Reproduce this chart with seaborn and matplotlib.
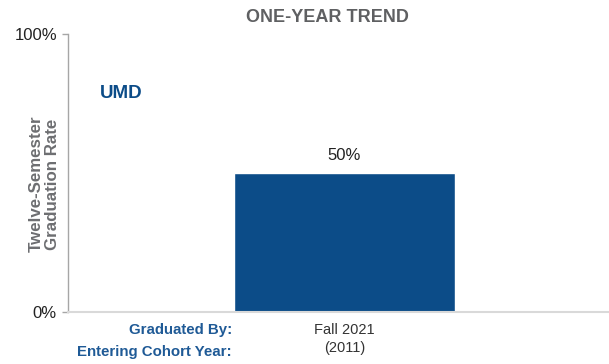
import matplotlib
matplotlib.use("Agg")
import matplotlib.pyplot as plt
import seaborn as sns
import pandas as pd

# data
categorias = ["Fall 2021\n(2011)"]
taxas = [50]
rotulos_linha = ["Graduated By:", "Entering Cohort Year:"]

df = pd.DataFrame({"cat": categorias, "taxa": taxas})

sns.set_style("white")
plt.rcParams["font.family"] = ["Liberation Sans", "DejaVu Sans"]

azul = "#0c4c88"
cinza = "#6d6e71"

fig = plt.figure(figsize=(6.09, 3.64), dpi=100)
ax = fig.add_axes([68 / 609, 1 - 312 / 364, 540 / 609, 278 / 364])

sns.barplot(data=df, x="cat", y="taxa", color=azul, width=0.41, saturation=1, ax=ax)
ax.set_xlim(-0.512, 0.488)
ax.set_ylim(0, 100)

ax.set_yticks([0, 100])
ax.set_yticklabels(["0%", "100%"], fontsize=12, color="#222222")
ax.tick_params(axis="y", length=4, width=1, color="#a6a6a6", left=True, pad=4)
ax.tick_params(axis="x", length=0, labelsize=10.5, labelcolor="#333333", pad=8)
for t in ax.get_xticklabels():
    t.set_linespacing(1.35)
ax.set_xlabel("")

for s in ["top", "right"]:
    ax.spines[s].set_visible(False)
ax.spines["left"].set_color("#a6a6a6")
ax.spines["left"].set_linewidth(1)
ax.spines["bottom"].set_color("#d9d9d9")
ax.spines["bottom"].set_linewidth(1.5)

# rotulo do valor
for p, v in zip(ax.patches, taxas):
    ax.annotate(f"{v}%", (p.get_x() + p.get_width() / 2, p.get_height()),
                xytext=(0, 7), textcoords="offset points",
                ha="center", va="bottom", fontsize=12, color="#222222")

ax.set_ylabel("Twelve-Semester\nGraduation Rate", fontsize=12.2, fontweight="bold",
              color=cinza, va="center", linespacing=1.05)
ax.yaxis.set_label_coords(-0.044, 0.46)

fig.text(327 / 609, 1 - 17 / 364, "ONE-YEAR TREND", ha="center", va="center",
         fontsize=13, fontweight="bold", color="#5f6062")
fig.text(100 / 609, 1 - 94 / 364, "UMD", ha="left", va="center",
         fontsize=13.5, fontweight="bold", color=azul)

fig.text(232 / 609, 1 - 330 / 364, rotulos_linha[0], ha="right", va="center",
         fontsize=10.8, fontweight="bold", color="#1f5a96")
fig.text(232 / 609, 1 - 352 / 364, rotulos_linha[1], ha="right", va="center",
         fontsize=10.8, fontweight="bold", color="#1f5a96")

fig.savefig("out.png", dpi=100)
